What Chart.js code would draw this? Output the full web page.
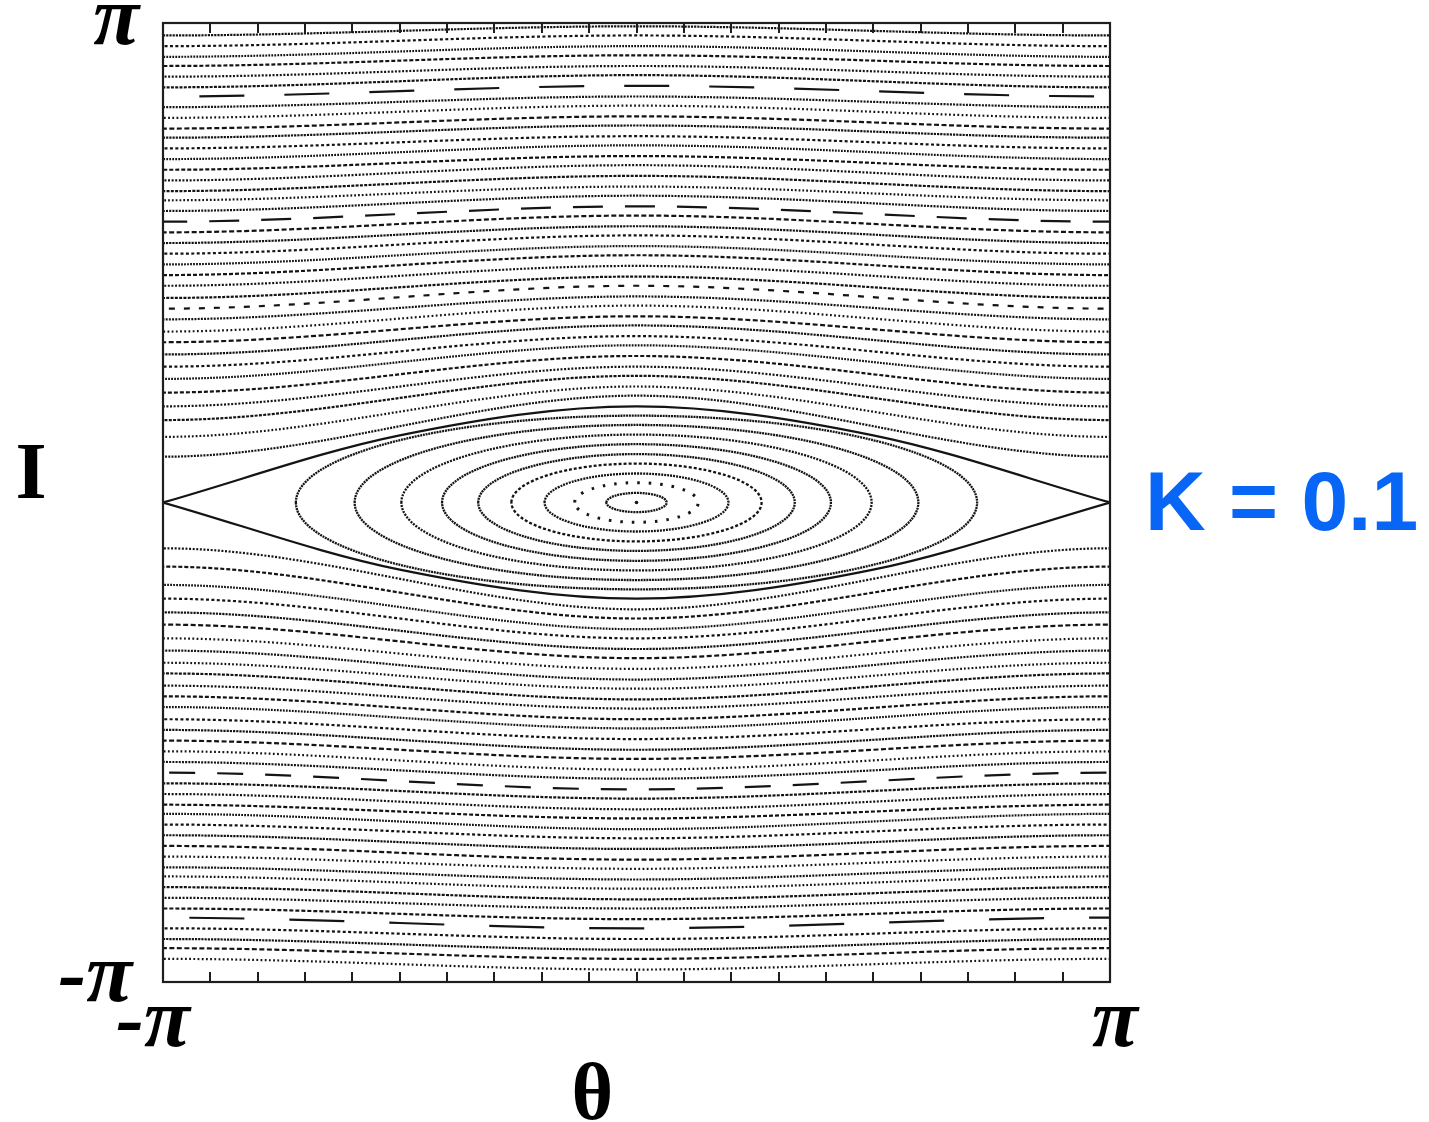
<!DOCTYPE html>
<html>
<head>
<meta charset="utf-8">
<title>Mapa estándar K = 0.1</title>
<script src="https://cdn.jsdelivr.net/npm/chart.js@4.4.1/dist/chart.umd.min.js"></script>
<style>
  html, body { margin: 0; padding: 0; background: #fff; }
  #contenedor { position: relative; width: 1429px; height: 1122px; }
</style>
</head>
<body>
<div id="contenedor"><canvas id="mapa"></canvas></div>
<script>
// =================================================================
// Sección de Poincaré del mapa estándar (theta, I) con K = 0.1
// =================================================================

const PI = Math.PI;
const K = 0.1;

// Órbitas rotacionales por encima de la isla: valor de I en theta = 0
// (centro) y en theta = ±pi (borde)
const centroSup = [0.70, 0.76, 0.83, 0.89, 0.96, 1.03, 1.09, 1.16, 1.22, 1.29,
  1.35, 1.42, 1.48, 1.55, 1.62, 1.68, 1.75, 1.81, 1.88, 1.94, 2.01, 2.07, 2.14,
  2.21, 2.27, 2.34, 2.40, 2.47, 2.53, 2.60, 2.66, 2.73, 2.80, 2.86, 2.93, 2.99,
  3.06, 3.12];
const bordeSup = [0.30, 0.43, 0.54, 0.63, 0.72, 0.81, 0.89, 0.97, 1.05, 1.12,
  1.20, 1.27, 1.34, 1.42, 1.49, 1.56, 1.63, 1.70, 1.77, 1.84, 1.91, 1.98, 2.04,
  2.11, 2.18, 2.25, 2.32, 2.39, 2.45, 2.52, 2.59, 2.66, 2.72, 2.79, 2.86, 2.92,
  2.99, 3.06];

// Órbitas rotacionales por debajo de la isla
const centroInf = [-0.70, -0.76, -0.83, -0.89, -0.96, -1.02, -1.09, -1.16, -1.22,
  -1.29, -1.35, -1.42, -1.48, -1.55, -1.62, -1.68, -1.75, -1.81, -1.88, -1.94,
  -2.01, -2.07, -2.14, -2.20, -2.27, -2.34, -2.40, -2.47, -2.53, -2.60, -2.66,
  -2.73, -2.79, -2.86, -2.93, -2.99, -3.06];
const bordeInf = [-0.30, -0.42, -0.54, -0.63, -0.72, -0.80, -0.89, -0.97, -1.05,
  -1.12, -1.20, -1.27, -1.34, -1.42, -1.49, -1.56, -1.63, -1.70, -1.77, -1.84,
  -1.91, -1.98, -2.04, -2.11, -2.18, -2.25, -2.32, -2.39, -2.45, -2.52, -2.59,
  -2.66, -2.72, -2.79, -2.86, -2.92, -2.99];

// Curvas cerradas de la isla central: semiancho en theta y semialtura en I
const semiAnchoIsla = [0.20, 0.41, 0.61, 0.83, 1.05, 1.29, 1.56, 1.87, 2.26];
const semiAltoIsla = [0.063, 0.13, 0.19, 0.255, 0.317, 0.382, 0.445, 0.508, 0.569];

// Separatriz (rama superior; la inferior es la misma con signo opuesto)
const separatrizTheta = [-PI, -PI / 2, 0, PI / 2, PI];
const separatrizI = [0, 0.44, 0.63, 0.44, 0];

// Punto fijo elíptico
const puntoFijo = [{ x: 0, y: 0 }];

// Marcas del eje theta y etiquetas
const divisionesTheta = 20;
const etiquetaMin = '-π';
const etiquetaMax = 'π';

// Estilos de trazo (las órbitas se ven como hileras de puntos)
const COLOR = '#141414';
const trazos = [[2, 1.2], [1.8, 2], [3, 1.3], [2, 1.6], [4, 2], [1.8, 1.2],
  [3, 2.4], [2.2, 1], [5, 2.5], [1.8, 2.4]];
const trazosLargosSup = { 11: [6, 9], 19: [30, 22], 31: [45, 40] };
const trazosLargosInf = { 18: [26, 22], 32: [55, 45] };
const trazosIsla = [[2, 0.8], [2.5, 9], [2, 1], [3, 2], [2, 0.8], [2, 0.8],
  [2, 1.2], [2, 0.8], [2, 0.8]];

// Extensión periódica en theta: la curva llega plana a ±pi
function orbitaRotacional(centro, borde) {
  return [
    { x: -2 * PI, y: centro },
    { x: -PI, y: borde },
    { x: 0, y: centro },
    { x: PI, y: borde },
    { x: 2 * PI, y: centro }
  ];
}

// Lazo cerrado; el primer y el último tramo se ocultan para que el cierre sea suave
function orbitaIsla(a, b) {
  return [
    { x: 0, y: -b }, { x: -a, y: 0 }, { x: 0, y: b }, { x: a, y: 0 },
    { x: 0, y: -b }, { x: -a, y: 0 }, { x: 0, y: b }
  ];
}

const datasets = [];

centroSup.forEach((c, i) => {
  datasets.push({
    data: orbitaRotacional(c, bordeSup[i]),
    borderDash: trazosLargosSup[i] || trazos[i % trazos.length],
    cubicInterpolationMode: 'monotone',
    borderWidth: 2.2
  });
});

centroInf.forEach((c, i) => {
  datasets.push({
    data: orbitaRotacional(c, bordeInf[i]),
    borderDash: trazosLargosInf[i] || trazos[(i + 3) % trazos.length],
    cubicInterpolationMode: 'monotone',
    borderWidth: 2.2
  });
});

[1, -1].forEach(signo => {
  datasets.push({
    data: separatrizTheta.map((t, i) => ({ x: t, y: signo * separatrizI[i] })),
    borderDash: [],
    cubicInterpolationMode: 'monotone',
    borderWidth: 2.2
  });
});

semiAnchoIsla.forEach((a, i) => {
  datasets.push({
    data: orbitaIsla(a, semiAltoIsla[i]),
    borderDash: trazosIsla[i],
    tension: 0.55,
    borderWidth: i === 1 ? 3 : 2.3,
    segment: {
      borderColor: ctx => (ctx.p0DataIndex === 0 || ctx.p1DataIndex === 6) ? 'rgba(0,0,0,0)' : undefined
    }
  });
});

datasets.push({
  data: puntoFijo,
  showLine: false,
  pointRadius: 1.8,
  pointBackgroundColor: COLOR,
  pointBorderWidth: 0
});

// Marco, marcas hacia dentro y etiquetas de los ejes
const marcoYTextos = {
  id: 'marcoYTextos',
  afterDraw(chart) {
    const { ctx, chartArea: a, scales: { x } } = chart;
    ctx.save();
    ctx.strokeStyle = '#1e1e1e';
    ctx.lineWidth = 2.2;
    ctx.strokeRect(a.left, a.top, a.right - a.left, a.bottom - a.top);
    ctx.lineWidth = 2;
    for (let k = 1; k < divisionesTheta; k++) {
      const px = Math.round(x.getPixelForValue(-PI + k * 2 * PI / divisionesTheta));
      ctx.beginPath();
      ctx.moveTo(px, a.top);
      ctx.lineTo(px, a.top + 10);
      ctx.moveTo(px, a.bottom);
      ctx.lineTo(px, a.bottom - 10);
      ctx.stroke();
    }

    ctx.fillStyle = '#000';
    ctx.font = 'italic bold 84px "Liberation Serif"';
    ctx.textBaseline = 'alphabetic';
    // eje I
    ctx.textAlign = 'right';
    ctx.fillText(etiquetaMax, a.left - 24, a.top + 21);
    ctx.fillText(etiquetaMin, a.left - 31, a.bottom + 19);
    // eje theta
    ctx.textAlign = 'center';
    ctx.fillText(etiquetaMin, a.left - 10, a.bottom + 64);
    ctx.fillText(etiquetaMax, a.right + 5, a.bottom + 64);

    ctx.font = 'bold 80px "Liberation Serif"';
    ctx.fillText('θ', (a.left + a.right) / 2 - 44, a.bottom + 137);
    ctx.fillText('I', 31, (a.top + a.bottom) / 2 - 5);

    ctx.fillStyle = '#0866f6';
    ctx.font = 'bold 84px "Liberation Sans"';
    ctx.textAlign = 'left';
    ctx.fillText('K = ' + K, 1145, 530);
    ctx.restore();
  }
};

new Chart(document.getElementById('mapa'), {
  type: 'scatter',
  data: { datasets },
  options: {
    responsive: true,
    maintainAspectRatio: false,
    animation: false,
    events: [],
    layout: { padding: { left: 163, right: 319, top: 23, bottom: 140 } },
    elements: {
      line: { borderColor: COLOR, capBezierPoints: false, borderCapStyle: 'butt' },
      point: { radius: 0 }
    },
    datasets: { scatter: { showLine: true } },
    plugins: { legend: { display: false }, tooltip: { enabled: false } },
    scales: {
      x: { type: 'linear', min: -PI, max: PI, display: false },
      y: { type: 'linear', min: -PI, max: PI, display: false }
    }
  },
  plugins: [marcoYTextos]
});
</script>
</body>
</html>
